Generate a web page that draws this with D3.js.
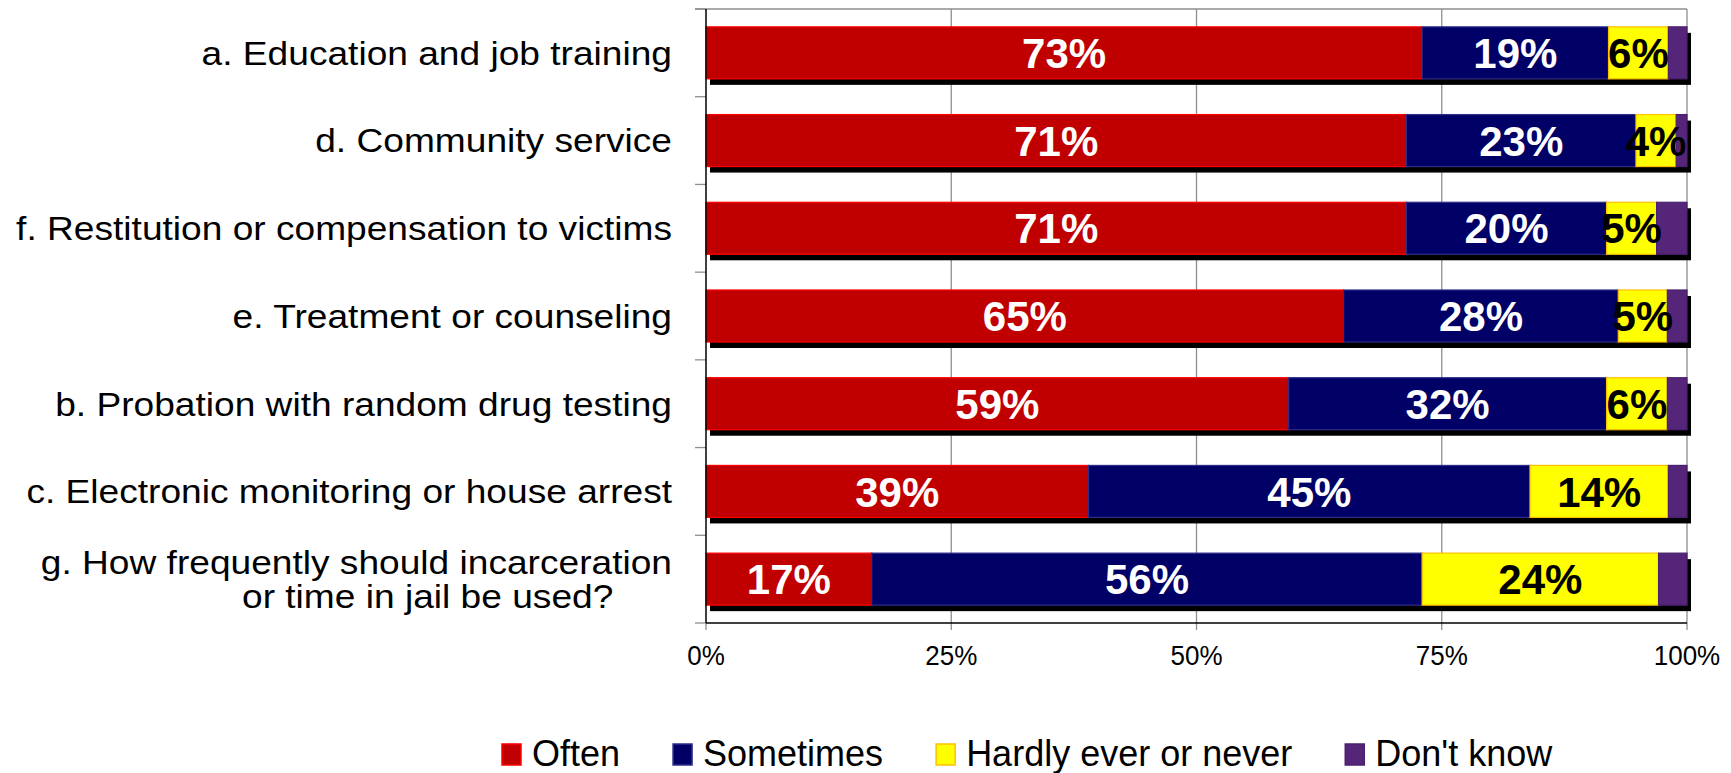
<!DOCTYPE html>
<html>
<head>
<meta charset="utf-8">
<script src="https://cdn.jsdelivr.net/npm/d3@7"></script>
<style>
  html, body { margin: 0; padding: 0; background: #fff; }
  svg { display: block; font-family: "Liberation Sans", Arial, sans-serif; }
</style>
</head>
<body>
<svg id="chart" width="1731" height="773"></svg>
<script>
// ---- data ----
const categories = [
  "a. Education and job training",
  "d. Community service",
  "f. Restitution or compensation to victims",
  "e. Treatment or counseling",
  "b. Probation with random drug testing",
  "c. Electronic monitoring or house arrest",
  "g. How frequently should incarceration|or time in jail be used?"
];
const seriesNames = ["Often", "Sometimes", "Hardly ever or never", "Don't know"];
const often      = [73.0, 71.4, 71.4, 65.0, 59.4, 39.0, 16.9];
const sometimes  = [19.0, 23.4, 20.4, 28.0, 32.4, 45.0, 56.1];
const hardly     = [6.1, 4.1, 5.1, 5.0, 6.2, 14.1, 24.1];
const dontKnow   = [1.9, 1.1, 3.1, 2.0, 2.0, 1.9, 2.9];
const xTicks = [0, 25, 50, 75, 100];

const fills   = ["#C00000", "#000066", "#FFFF00", "#552579"];
const strokes = ["#FF0000", "#2E2E8A", "#FFC000", "#4A2070"];
const labelColors = ["#FFFFFF", "#FFFFFF", "#000000", null];

// ---- layout ----
const svg = d3.select("#chart");
const pL = 706, pR = 1687, pT = 9, pB = 623;

const x = d3.scaleLinear().domain([0, 100]).range([pL, pR]);
const y = d3.scaleBand().domain(categories).range([pT, pB])
  .paddingInner(0.407).paddingOuter(0.2035);

const rows = categories.map((c, i) => {
  const vals = [often[i], sometimes[i], hardly[i], dontKnow[i]];
  let acc = 0;
  const segs = vals.map((v, k) => { const s = {k, v, x0: acc, x1: acc + v}; acc += v; return s; });
  return {c, segs, total: acc};
});

// gridlines
const grid = svg.append("g");
grid.selectAll("line.v").data(xTicks.filter(d => d > 0)).join("line")
  .attr("x1", d => x(d)).attr("x2", d => x(d))
  .attr("y1", pT).attr("y2", pB + 7)
  .attr("stroke", "#8E8E8E").attr("stroke-width", 1.3);
grid.append("line").attr("x1", pL - 11).attr("x2", pR).attr("y1", pT).attr("y2", pT)
  .attr("stroke", "#8E8E8E").attr("stroke-width", 1.3);
const step = y.step();
grid.selectAll("line.lt").data(d3.range(categories.length + 1)).join("line")
  .attr("x1", pL - 11).attr("x2", pL)
  .attr("y1", k => pT + k * step).attr("y2", k => pT + k * step)
  .attr("stroke", "#8E8E8E").attr("stroke-width", 1.3);
grid.append("line").attr("x1", pL).attr("x2", pL).attr("y1", pB).attr("y2", pB + 7)
  .attr("stroke", "#8E8E8E").attr("stroke-width", 1.3);

// bars
const barG = svg.append("g");
const rowG = barG.selectAll("g.row").data(rows).join("g")
  .attr("transform", d => `translate(0,${y(d.c)})`);
rowG.append("rect")
  .attr("x", x(0) + 4).attr("y", 6)
  .attr("width", d => x(d.total) - x(0)).attr("height", y.bandwidth())
  .attr("fill", "#000");
rowG.selectAll("rect.seg").data(d => d.segs).join("rect")
  .attr("class", "seg")
  .attr("x", s => x(s.x0)).attr("y", 0)
  .attr("width", s => x(s.x1) - x(s.x0)).attr("height", y.bandwidth())
  .attr("fill", s => fills[s.k])
  .attr("stroke", s => strokes[s.k]).attr("stroke-width", 1.2);

// axis lines
svg.append("line").attr("x1", pL).attr("x2", pL).attr("y1", pT).attr("y2", pB)
  .attr("stroke", "#000").attr("stroke-width", 1.5);
svg.append("line").attr("x1", pL).attr("x2", pR).attr("y1", pB).attr("y2", pB)
  .attr("stroke", "#000").attr("stroke-width", 1.3);

// value labels
rowG.selectAll("text.val").data(d => d.segs.filter(s => labelColors[s.k])).join("text")
  .attr("class", "val")
  .attr("x", s => x((s.x0 + s.x1) / 2))
  .attr("y", y.bandwidth() / 2)
  .attr("dy", "0.36em")
  .attr("text-anchor", "middle")
  .attr("font-size", 42).attr("font-weight", "bold")
  .attr("fill", s => labelColors[s.k])
  .text(s => Math.round(s.v) + "%");

// category labels (slightly wide lettering, as in the original)
const catG = svg.append("g");
const catFont = 33, catStretch = 1.125;
categories.forEach(c => {
  const lines = c.split("|");
  const cy = y(c) + y.bandwidth() / 2;
  if (lines.length === 1) {
    catG.append("text").attr("font-size", catFont).attr("text-anchor", "end")
      .attr("transform", `translate(${pL - 34},${cy}) scale(${catStretch},1)`)
      .attr("dy", "0.36em").text(lines[0]);
  } else {
    const lh = 34.4;
    catG.append("text").attr("font-size", catFont).attr("text-anchor", "end")
      .attr("transform", `translate(${pL - 34},${cy - lh / 2}) scale(${catStretch},1)`)
      .attr("dy", "0.36em").text(lines[0]);
    catG.append("text").attr("font-size", catFont).attr("text-anchor", "start")
      .attr("transform", `translate(242,${cy + lh / 2}) scale(${catStretch},1)`)
      .attr("dy", "0.36em").text(lines[1]);
  }
});

// x axis tick labels
svg.append("g").selectAll("text").data(xTicks).join("text")
  .attr("transform", d => `translate(${x(d)},665) scale(1,1.08)`)
  .attr("text-anchor", "middle").attr("font-size", 26).attr("fill", "#000")
  .text(d => d + "%");

// legend
const leg = svg.append("g");
let lx = 502;
seriesNames.forEach((n, k) => {
  leg.append("rect").attr("x", lx).attr("y", 744).attr("width", 19).attr("height", 21)
    .attr("fill", fills[k]).attr("stroke", strokes[k]).attr("stroke-width", 1.5);
  const t = leg.append("text").attr("x", lx + 30).attr("y", 765.5)
    .attr("font-size", 36).attr("fill", "#000").text(n);
  lx += 30 + t.node().getComputedTextLength() + 53;
});
</script>
</body>
</html>
